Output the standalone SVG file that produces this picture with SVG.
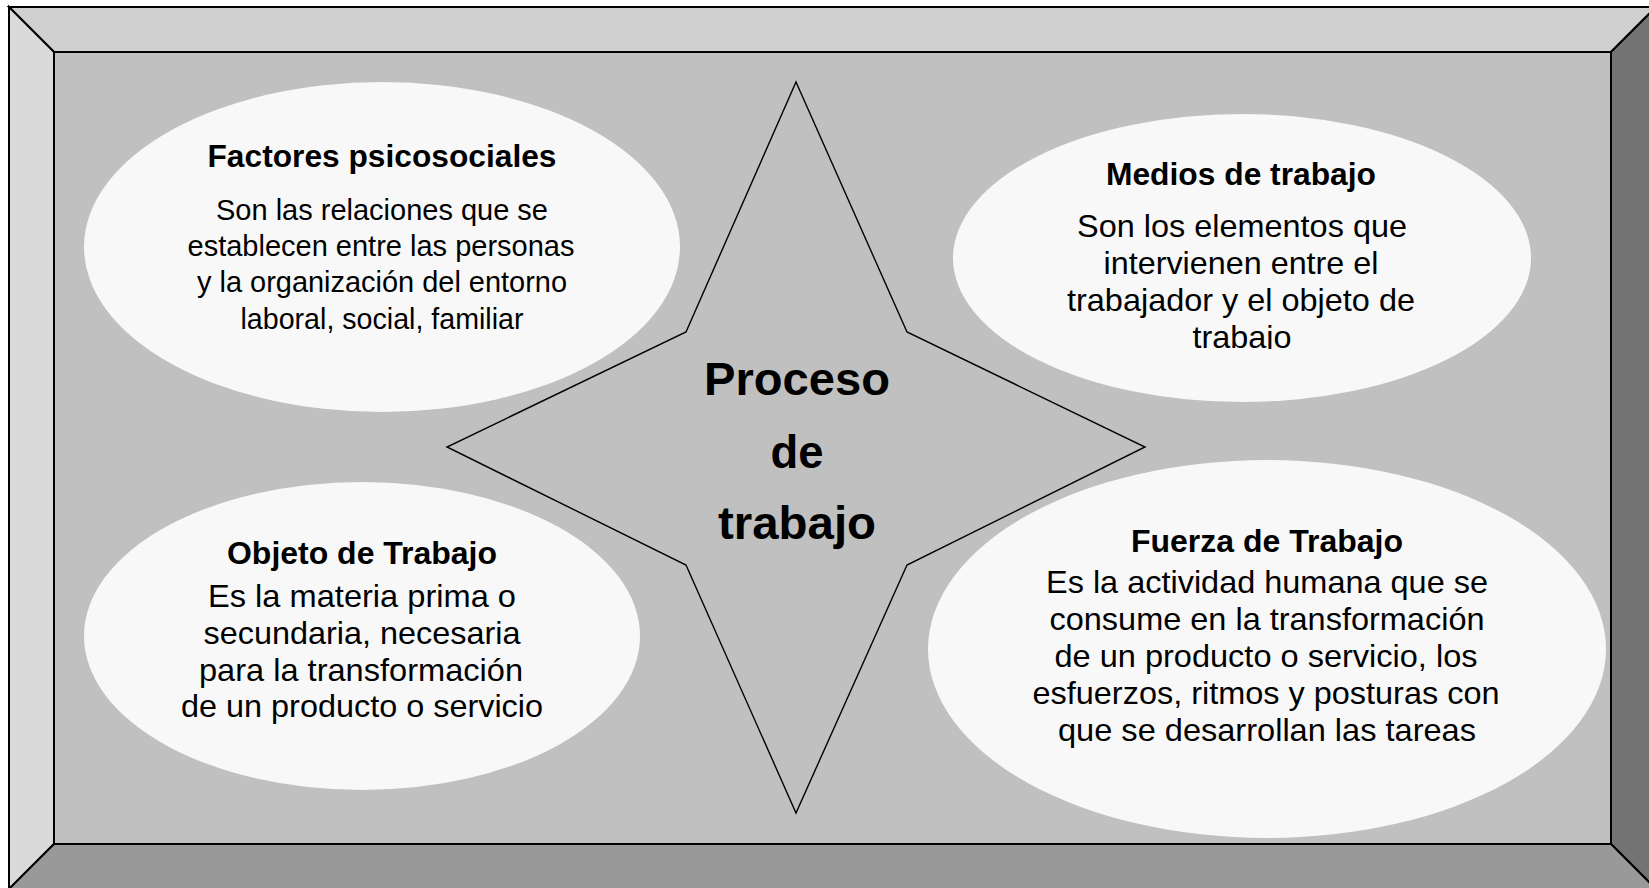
<svg xmlns="http://www.w3.org/2000/svg" width="1649" height="888" viewBox="0 0 1649 888">
<style>
.edge{stroke:#000;stroke-width:2;stroke-linejoin:miter}
.ell{fill:#f8f8f8;stroke:none}
.t{font-family:"Liberation Sans",Arial,sans-serif;font-weight:bold;font-size:31px;fill:#000;text-anchor:middle}
.b{font-family:"Liberation Sans",Arial,sans-serif;font-size:32px;fill:#000;text-anchor:middle}
.bn{font-family:"Liberation Sans",Arial,sans-serif;font-size:29px;fill:#000;text-anchor:middle}
.c{font-family:"Liberation Sans",Arial,sans-serif;font-weight:bold;font-size:46px;fill:#000;text-anchor:middle}
</style>
<defs>
<clipPath id="clipMedios"><rect x="900" y="60" width="700" height="289"/></clipPath>
</defs>
<g id="frame">
<polygon class="edge" points="9,7 1656,7 1611,52 54,52" fill="#d0d0d0"/>
<polygon class="edge" points="9,7 54,52 54,844 9,889" fill="#dadada"/>
<polygon class="edge" points="1656,7 1656,889 1611,844 1611,52" fill="#737373"/>
<polygon class="edge" points="9,889 54,844 1611,844 1656,889" fill="#999999"/>
<rect class="edge" x="54" y="52" width="1557" height="792" fill="#c0c0c0"/>
</g>
<g id="connectors"></g>
<g id="star">
<polygon points="796,82 907,332 1145,447 907,565 796,813 686,565 447,447 686,332" fill="#c0c0c0" stroke="#000" stroke-width="1.4"/>
<text class="c" x="797" y="395" textLength="186" lengthAdjust="spacingAndGlyphs">Proceso</text>
<text class="c" x="797" y="468" textLength="53" lengthAdjust="spacingAndGlyphs">de</text>
<text class="c" x="797" y="539" textLength="158" lengthAdjust="spacingAndGlyphs">trabajo</text>
</g>
<g id="factores">
<ellipse class="ell" cx="382" cy="247" rx="298" ry="165"/>
<text class="t" x="382" y="167" textLength="349" lengthAdjust="spacingAndGlyphs">Factores psicosociales</text>
<text class="bn" x="382" y="220" textLength="332" lengthAdjust="spacingAndGlyphs">Son las relaciones que se</text>
<text class="bn" x="381" y="256" textLength="387" lengthAdjust="spacingAndGlyphs">establecen entre las personas</text>
<text class="bn" x="382" y="292" textLength="370" lengthAdjust="spacingAndGlyphs">y la organización del entorno</text>
<text class="bn" x="382" y="329" textLength="283" lengthAdjust="spacingAndGlyphs">laboral, social, familiar</text>
</g>
<g id="medios">
<ellipse class="ell" cx="1242" cy="258" rx="289" ry="144"/>
<text class="t" x="1241" y="185" textLength="270" lengthAdjust="spacingAndGlyphs">Medios de trabajo</text>
<text class="b" x="1242" y="237" textLength="330" lengthAdjust="spacingAndGlyphs">Son los elementos que</text>
<text class="b" x="1241" y="274" textLength="275" lengthAdjust="spacingAndGlyphs">intervienen entre el</text>
<text class="b" x="1241" y="311" textLength="348" lengthAdjust="spacingAndGlyphs">trabajador y el objeto de</text>
<text class="b" x="1242" y="348" textLength="99" lengthAdjust="spacingAndGlyphs" clip-path="url(#clipMedios)">trabajo</text>
</g>
<g id="objeto">
<ellipse class="ell" cx="362" cy="636" rx="278" ry="154"/>
<text class="t" x="362" y="564" textLength="270" lengthAdjust="spacingAndGlyphs">Objeto de Trabajo</text>
<text class="b" x="362" y="607" textLength="308" lengthAdjust="spacingAndGlyphs">Es la materia prima o</text>
<text class="b" x="362" y="644" textLength="317" lengthAdjust="spacingAndGlyphs">secundaria, necesaria</text>
<text class="b" x="361" y="681" textLength="324" lengthAdjust="spacingAndGlyphs">para la transformación</text>
<text class="b" x="362" y="717" textLength="362" lengthAdjust="spacingAndGlyphs">de un producto o servicio</text>
</g>
<g id="fuerza">
<ellipse class="ell" cx="1267" cy="649" rx="339" ry="189"/>
<text class="t" x="1267" y="552" textLength="272" lengthAdjust="spacingAndGlyphs">Fuerza de Trabajo</text>
<text class="b" x="1267" y="593" textLength="442" lengthAdjust="spacingAndGlyphs">Es la actividad humana que se</text>
<text class="b" x="1267" y="630" textLength="435" lengthAdjust="spacingAndGlyphs">consume en la transformación</text>
<text class="b" x="1266" y="667" textLength="423" lengthAdjust="spacingAndGlyphs">de un producto o servicio, los</text>
<text class="b" x="1266" y="704" textLength="467" lengthAdjust="spacingAndGlyphs">esfuerzos, ritmos y posturas con</text>
<text class="b" x="1267" y="741" textLength="418" lengthAdjust="spacingAndGlyphs">que se desarrollan las tareas</text>
</g>
</svg>
